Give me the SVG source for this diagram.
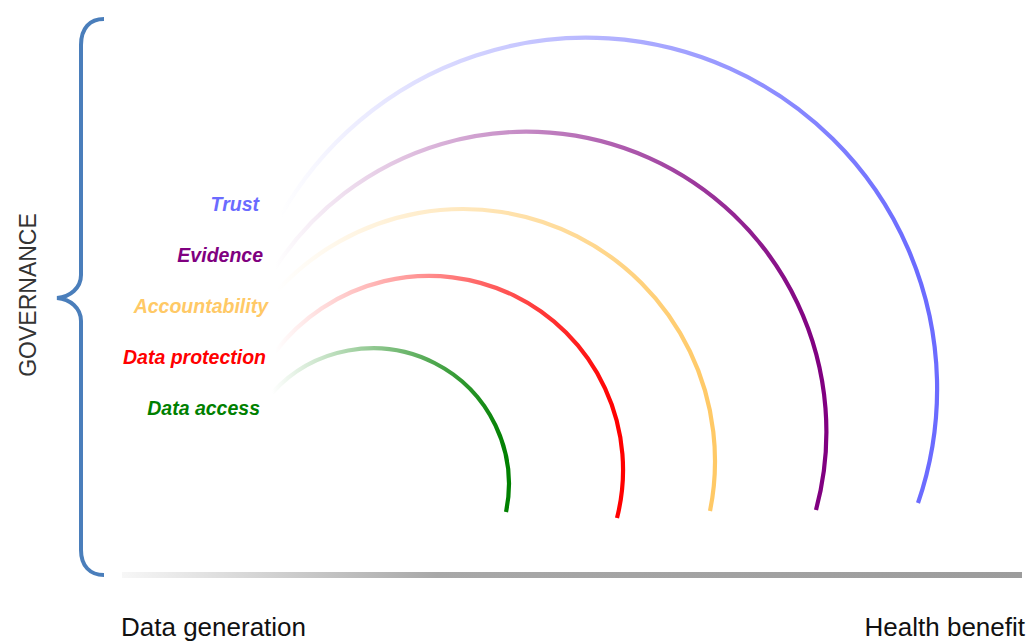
<svg xmlns="http://www.w3.org/2000/svg" width="1034" height="642" viewBox="0 0 1034 642">
<style>
.lbl{font-family:"Liberation Sans",Arial,sans-serif;font-weight:bold;font-style:italic;font-size:19.5px;text-anchor:end}
.ax{font-family:"Liberation Sans",Arial,sans-serif;font-size:26px;fill:#111}
.arc{fill:none;stroke-width:4.2;stroke-linecap:butt}
</style>
<defs>
<linearGradient id="gGreen" gradientUnits="userSpaceOnUse" x1="272" y1="0" x2="506" y2="0"><stop offset="0" stop-color="#008000" stop-opacity="0"/><stop offset="1" stop-color="#008000" stop-opacity="1"/></linearGradient>
<linearGradient id="gRed" gradientUnits="userSpaceOnUse" x1="275" y1="0" x2="617" y2="0"><stop offset="0" stop-color="#ff0000" stop-opacity="0"/><stop offset="1" stop-color="#ff0000" stop-opacity="1"/></linearGradient>
<linearGradient id="gYellow" gradientUnits="userSpaceOnUse" x1="277" y1="0" x2="710" y2="0"><stop offset="0" stop-color="#ffc966" stop-opacity="0"/><stop offset="1" stop-color="#ffc966" stop-opacity="1"/></linearGradient>
<linearGradient id="gPurple" gradientUnits="userSpaceOnUse" x1="275" y1="0" x2="816" y2="0"><stop offset="0" stop-color="#800080" stop-opacity="0"/><stop offset="1" stop-color="#800080" stop-opacity="1"/></linearGradient>
<linearGradient id="gBlue" gradientUnits="userSpaceOnUse" x1="280" y1="0" x2="918" y2="0"><stop offset="0" stop-color="#6b6bff" stop-opacity="0"/><stop offset="1" stop-color="#6b6bff" stop-opacity="1"/></linearGradient>
<linearGradient id="gAxis" gradientUnits="userSpaceOnUse" x1="122" y1="0" x2="1022" y2="0"><stop offset="0" stop-color="#f7f7f7"/><stop offset="0.35" stop-color="#a8a8a8"/><stop offset="1" stop-color="#9c9c9c"/></linearGradient>
</defs>
<rect width="1034" height="642" fill="#ffffff"/>

<g id="governance">
<path d="M104,19 C90,19 81,28 81,45 L81,275 C81,288 70,297 57,298 C70,299 81,308 81,321 L81,550 C81,566 90,575 104,575" fill="none" stroke="#4a7ebb" stroke-width="4"/>
<text transform="translate(36,295) rotate(-90)" text-anchor="middle" style="font-family:'Liberation Sans',Arial,sans-serif;font-size:23px;fill:#333">GOVERNANCE</text>
</g>

<g id="axis">
<rect x="122" y="572" width="900" height="6" fill="url(#gAxis)"/>
<text class="ax" x="121" y="636">Data generation</text>
<text class="ax" x="1025" y="636" text-anchor="end">Health benefit</text>
</g>

<g id="connectors">
<path id="arc-access" class="arc" stroke="url(#gGreen)" d="M272,393 A136,136 0 0 1 506,512"/>
<path id="arc-protection" class="arc" stroke="url(#gRed)" d="M275,352 A194,194 0 0 1 617,518"/>
<path id="arc-accountability" class="arc" stroke="url(#gYellow)" d="M277,291 A252,252 0 0 1 710,511"/>
<path id="arc-evidence" class="arc" stroke="url(#gPurple)" d="M275,268 A300,300 0 0 1 816,510"/>
<path id="arc-trust" class="arc" stroke="url(#gBlue)" d="M280,217 A351,351 0 0 1 918,503"/>
</g>

<g id="trust"><text class="lbl" x="259" y="211" fill="#6b6bff">Trust</text></g>
<g id="evidence"><text class="lbl" x="263" y="262" fill="#800080">Evidence</text></g>
<g id="accountability"><text class="lbl" x="268" y="313" fill="#ffc966">Accountability</text></g>
<g id="data-protection"><text class="lbl" x="266" y="364" fill="#ff0000">Data protection</text></g>
<g id="data-access"><text class="lbl" x="260" y="415" fill="#008000">Data access</text></g>
</svg>
